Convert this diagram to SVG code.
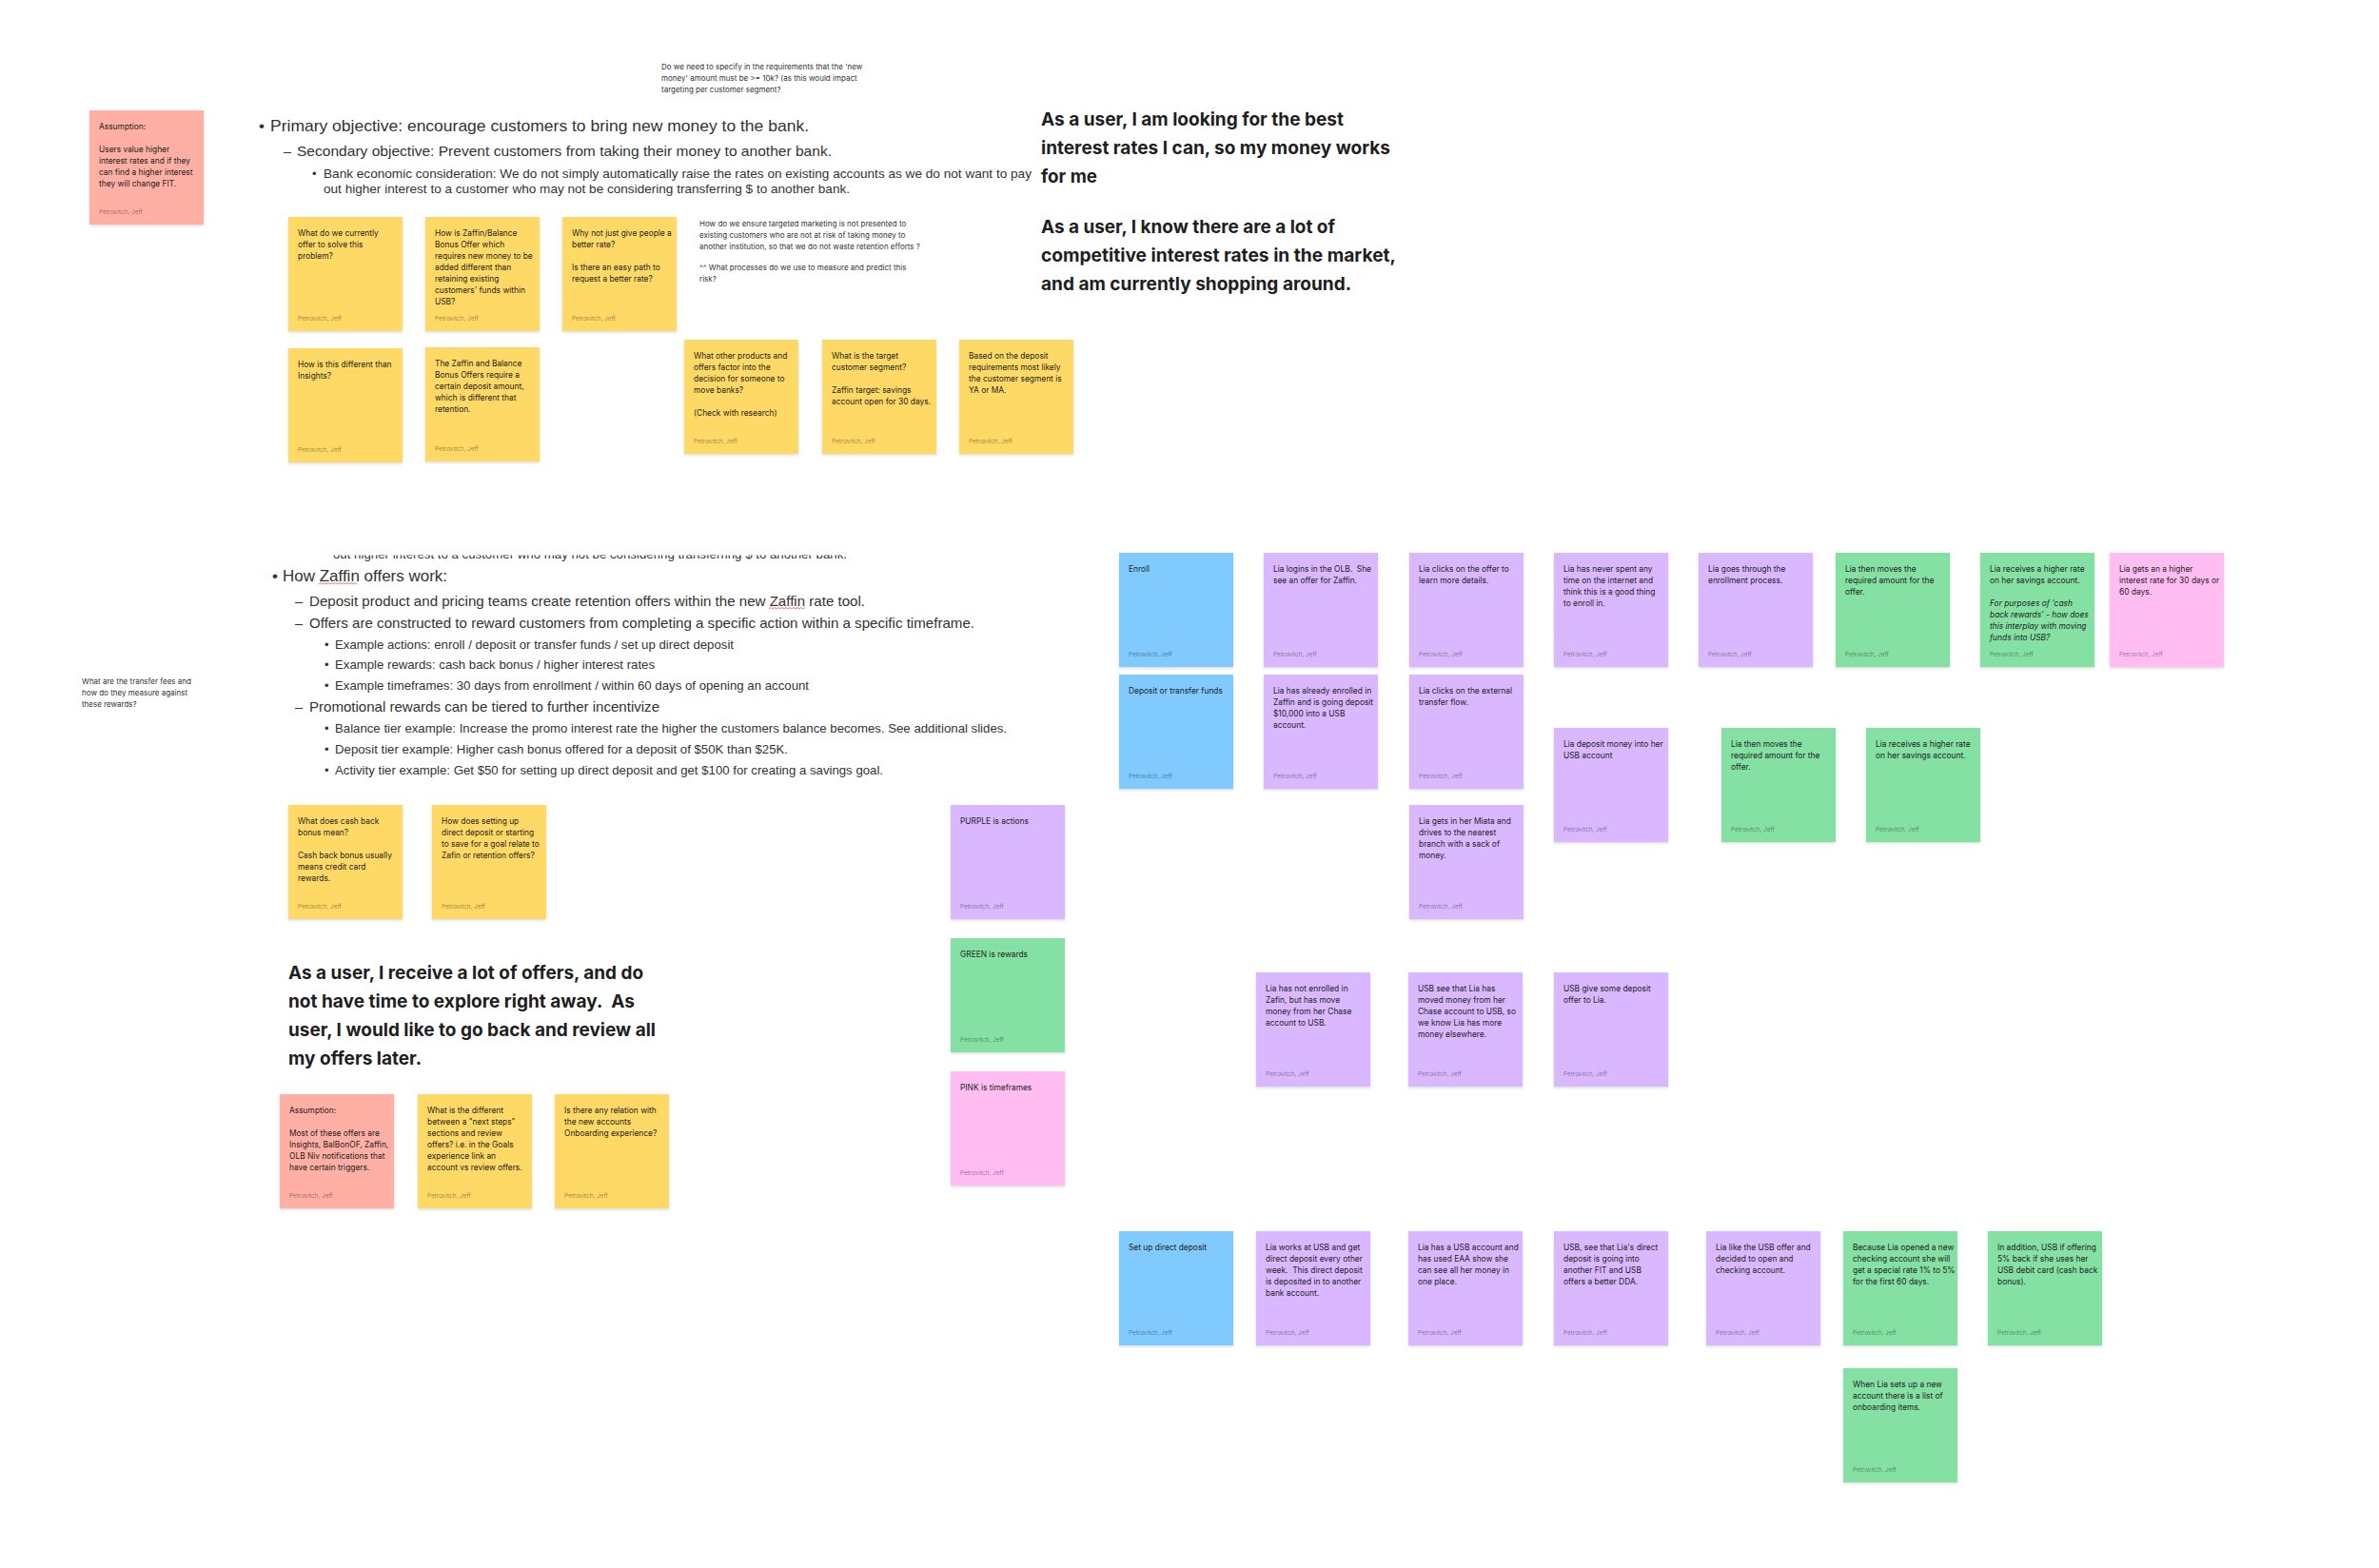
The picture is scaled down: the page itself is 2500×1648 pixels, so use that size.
<svg xmlns="http://www.w3.org/2000/svg" width="2500" height="1648" viewBox="0 0 2500 1648">
<defs>
<filter id="sh" x="-10%" y="-10%" width="120%" height="130%"><feDropShadow dx="0" dy="1.5" stdDeviation="1.5" flood-color="#000" flood-opacity="0.14"/></filter>
<clipPath id="cut"><rect x="300" y="583.5" width="700" height="20"/></clipPath>
</defs>
<style>
.y{fill:#FFD966}.r{fill:#FFAFA3}.p{fill:#D9B8FF}.g{fill:#85E0A3}.b{fill:#80CAFF}.k{fill:#FFBDF2}
rect.s{filter:url(#sh)}
.t{font-family:Inter,"Noto Sans",sans-serif;font-size:8.4px;fill:#1e1e1e}
.a{font-family:Inter,"Noto Sans",sans-serif;font-size:6.4px;fill:#000;fill-opacity:0.42}
.q{font-family:Inter,"Noto Sans",sans-serif;font-size:8px;fill:#333}
.bl{font-family:"Liberation Sans",Arial,sans-serif;fill:#333}
.L{font-size:17px}.M{font-size:14.5px}.S{font-size:13px}
.big{font-family:Inter,"Noto Sans",sans-serif;font-size:19px;font-weight:700;fill:#1e1e1e}
.sq{fill:none;stroke:#e05a5a;stroke-width:0.8}
</style>
<rect width="2500" height="1648" fill="#ffffff"/>
<g id="connectors"/>

<!-- free texts -->
<g id="q-new-money">
<text class="q" x="695" y="73">Do we need to specify in the requirements that the 'new</text>
<text class="q" x="695" y="85">money' amount must be &gt;= 10k? (as this would impact</text>
<text class="q" x="695" y="97">targeting per customer segment?</text>
</g>
<g id="q-targeting">
<text class="q" x="735" y="238">How do we ensure targeted marketing is not presented to</text>
<text class="q" x="735" y="250">existing customers who are not at risk of taking money to</text>
<text class="q" x="735" y="262">another institution, so that we do not waste retention efforts ?</text>
<text class="q" x="735" y="284">^^ What processes do we use to measure and predict this</text>
<text class="q" x="735" y="296">risk?</text>
</g>
<g id="q-transfer-fees">
<text class="q" x="86" y="719">What are the transfer fees and</text>
<text class="q" x="86" y="731">how do they measure against</text>
<text class="q" x="86" y="743">these rewards?</text>
</g>

<g id="objectives">
<text class="bl L" x="272" y="138">•</text>
<text class="bl L" x="284" y="138" textLength="566" lengthAdjust="spacingAndGlyphs">Primary objective: encourage customers to bring new money to the bank.</text>
<text class="bl M" x="298" y="164">–</text>
<text class="bl M" x="312" y="164" textLength="562" lengthAdjust="spacingAndGlyphs">Secondary objective: Prevent customers from taking their money to another bank.</text>
<text class="bl S" x="328" y="186.5">•</text>
<text class="bl S" x="340" y="186.5" textLength="744" lengthAdjust="spacingAndGlyphs">Bank economic consideration: We do not simply automatically raise the rates on existing accounts as we do not want to pay</text>
<text class="bl S" x="340" y="202.5" textLength="553" lengthAdjust="spacingAndGlyphs">out higher interest to a customer who may not be considering transferring $ to another bank.</text>
</g>

<g id="zaffin-offers">
<text class="bl S" x="350" y="587" textLength="540" lengthAdjust="spacingAndGlyphs" clip-path="url(#cut)">out higher interest to a customer who may not be considering transferring $ to another bank.</text>
<text class="bl L" x="286" y="611">•</text>
<text class="bl L" x="297" y="611" textLength="173" lengthAdjust="spacingAndGlyphs">How Zaffin offers work:</text>
<path class="sq" d="M335 614l2 -1.5l2 1.5l2 -1.5l2 1.5l2 -1.5l2 1.5l2 -1.5l2 1.5l2 -1.5l2 1.5l2 -1.5l2 1.5l2 -1.5l2 1.5l2 -1.5l2 1.5l2 -1.5l2 1.5l2 -1.5l2 1.5"/>
<text class="bl M" x="310" y="637">–</text>
<text class="bl M" x="325" y="637" textLength="584" lengthAdjust="spacingAndGlyphs">Deposit product and pricing teams create retention offers within the new Zaffin rate tool.</text>
<path class="sq" d="M808 640l2 -1.5l2 1.5l2 -1.5l2 1.5l2 -1.5l2 1.5l2 -1.5l2 1.5l2 -1.5l2 1.5l2 -1.5l2 1.5l2 -1.5l2 1.5l2 -1.5l2 1.5l2 -1.5l2 1.5l2 -1.5"/>
<text class="bl M" x="310" y="660">–</text>
<text class="bl M" x="325" y="660" textLength="699" lengthAdjust="spacingAndGlyphs">Offers are constructed to reward customers from completing a specific action within a specific timeframe.</text>
<text class="bl S" x="341" y="681.5">•</text>
<text class="bl S" x="352" y="681.5" textLength="419" lengthAdjust="spacingAndGlyphs">Example actions: enroll / deposit or transfer funds / set up direct deposit</text>
<text class="bl S" x="341" y="702.5">•</text>
<text class="bl S" x="352" y="702.5" textLength="336" lengthAdjust="spacingAndGlyphs">Example rewards: cash back bonus / higher interest rates</text>
<text class="bl S" x="341" y="724.5">•</text>
<text class="bl S" x="352" y="724.5" textLength="498" lengthAdjust="spacingAndGlyphs">Example timeframes: 30 days from enrollment / within 60 days of opening an account</text>
<text class="bl M" x="310" y="748">–</text>
<text class="bl M" x="325" y="748" textLength="368" lengthAdjust="spacingAndGlyphs">Promotional rewards can be tiered to further incentivize</text>
<text class="bl S" x="341" y="769.5">•</text>
<text class="bl S" x="352" y="769.5" textLength="706" lengthAdjust="spacingAndGlyphs">Balance tier example: Increase the promo interest rate the higher the customers balance becomes. See additional slides.</text>
<text class="bl S" x="341" y="791.5">•</text>
<text class="bl S" x="352" y="791.5" textLength="476" lengthAdjust="spacingAndGlyphs">Deposit tier example: Higher cash bonus offered for a deposit of $50K than $25K.</text>
<text class="bl S" x="341" y="813.5">•</text>
<text class="bl S" x="352" y="813.5" textLength="576" lengthAdjust="spacingAndGlyphs">Activity tier example: Get $50 for setting up direct deposit and get $100 for creating a savings goal.</text>
</g>

<g id="story-rates">
<text class="big" x="1094" y="132" textLength="318" lengthAdjust="spacingAndGlyphs">As a user, I am looking for the best</text>
<text class="big" x="1094" y="162" textLength="367" lengthAdjust="spacingAndGlyphs">interest rates I can, so my money works</text>
<text class="big" x="1094" y="192" textLength="59" lengthAdjust="spacingAndGlyphs">for me</text>
<text class="big" x="1094" y="245" textLength="309" lengthAdjust="spacingAndGlyphs">As a user, I know there are a lot of</text>
<text class="big" x="1094" y="275" textLength="373" lengthAdjust="spacingAndGlyphs">competitive interest rates in the market,</text>
<text class="big" x="1094" y="305" textLength="326" lengthAdjust="spacingAndGlyphs">and am currently shopping around.</text>
</g>
<g id="story-offers">
<text class="big" x="303" y="1029" textLength="373" lengthAdjust="spacingAndGlyphs">As a user, I receive a lot of offers, and do</text>
<text class="big" x="303" y="1059" textLength="364" lengthAdjust="spacingAndGlyphs">not have time to explore right away.&#160; As</text>
<text class="big" x="303" y="1089" textLength="386" lengthAdjust="spacingAndGlyphs">user, I would like to go back and review all</text>
<text class="big" x="303" y="1119" textLength="140" lengthAdjust="spacingAndGlyphs">my offers later.</text>
</g>

<!-- stickies left -->
<g id="n-assumption-1" transform="translate(94,116)"><rect class="s r" width="120" height="120"/><text class="t" x="10" y="20"><tspan x="10">Assumption:</tspan><tspan x="10" dy="24">Users value higher</tspan><tspan x="10" dy="12">interest rates and if they</tspan><tspan x="10" dy="12">can find a higher interest</tspan><tspan x="10" dy="12">they will change FIT.</tspan></text><text class="a" x="10" y="109">Petrovitch, Jeff</text></g>

<g id="n-currently-offer" transform="translate(303,228)"><rect class="s y" width="120" height="120"/><text class="t" x="10" y="20"><tspan x="10">What do we currently</tspan><tspan x="10" dy="12">offer to solve this</tspan><tspan x="10" dy="12">problem?</tspan></text><text class="a" x="10" y="109">Petrovitch, Jeff</text></g>
<g id="n-zaffin-balance" transform="translate(447,228)"><rect class="s y" width="120" height="120"/><text class="t" x="10" y="20"><tspan x="10">How is Zaffin/Balance</tspan><tspan x="10" dy="12">Bonus Offer which</tspan><tspan x="10" dy="12">requires new money to be</tspan><tspan x="10" dy="12">added different than</tspan><tspan x="10" dy="12">retaining existing</tspan><tspan x="10" dy="12">customers' funds within</tspan><tspan x="10" dy="12">USB?</tspan></text><text class="a" x="10" y="109">Petrovitch, Jeff</text></g>
<g id="n-better-rate" transform="translate(591,228)"><rect class="s y" width="120" height="120"/><text class="t" x="10" y="20"><tspan x="10">Why not just give people a</tspan><tspan x="10" dy="12">better rate?</tspan><tspan x="10" dy="24">Is there an easy path to</tspan><tspan x="10" dy="12">request a better rate?</tspan></text><text class="a" x="10" y="109">Petrovitch, Jeff</text></g>
<g id="n-insights" transform="translate(303,366)"><rect class="s y" width="120" height="120"/><text class="t" x="10" y="20"><tspan x="10">How is this different than</tspan><tspan x="10" dy="12">Insights?</tspan></text><text class="a" x="10" y="109">Petrovitch, Jeff</text></g>
<g id="n-deposit-amount" transform="translate(447,365)"><rect class="s y" width="120" height="120"/><text class="t" x="10" y="20"><tspan x="10">The Zaffin and Balance</tspan><tspan x="10" dy="12">Bonus Offers require a</tspan><tspan x="10" dy="12">certain deposit amount,</tspan><tspan x="10" dy="12">which is different that</tspan><tspan x="10" dy="12">retention.</tspan></text><text class="a" x="10" y="109">Petrovitch, Jeff</text></g>
<g id="n-other-products" transform="translate(719,357)"><rect class="s y" width="120" height="120"/><text class="t" x="10" y="20"><tspan x="10">What other products and</tspan><tspan x="10" dy="12">offers factor into the</tspan><tspan x="10" dy="12">decision for someone to</tspan><tspan x="10" dy="12">move banks?</tspan><tspan x="10" dy="24">(Check with research)</tspan></text><text class="a" x="10" y="109">Petrovitch, Jeff</text></g>
<g id="n-target-segment" transform="translate(864,357)"><rect class="s y" width="120" height="120"/><text class="t" x="10" y="20"><tspan x="10">What is the target</tspan><tspan x="10" dy="12">customer segment?</tspan><tspan x="10" dy="24">Zaffin target: savings</tspan><tspan x="10" dy="12">account open for 30 days.</tspan></text><text class="a" x="10" y="109">Petrovitch, Jeff</text></g>
<g id="n-ya-ma" transform="translate(1008,357)"><rect class="s y" width="120" height="120"/><text class="t" x="10" y="20"><tspan x="10">Based on the deposit</tspan><tspan x="10" dy="12">requirements most likely</tspan><tspan x="10" dy="12">the customer segment is</tspan><tspan x="10" dy="12">YA or MA.</tspan></text><text class="a" x="10" y="109">Petrovitch, Jeff</text></g>

<g id="n-cash-back" transform="translate(303,846)"><rect class="s y" width="120" height="120"/><text class="t" x="10" y="20"><tspan x="10">What does cash back</tspan><tspan x="10" dy="12">bonus mean?</tspan><tspan x="10" dy="24">Cash back bonus usually</tspan><tspan x="10" dy="12">means credit card</tspan><tspan x="10" dy="12">rewards.</tspan></text><text class="a" x="10" y="109">Petrovitch, Jeff</text></g>
<g id="n-direct-deposit-goal" transform="translate(454,846)"><rect class="s y" width="120" height="120"/><text class="t" x="10" y="20"><tspan x="10">How does setting up</tspan><tspan x="10" dy="12">direct deposit or starting</tspan><tspan x="10" dy="12">to save for a goal relate to</tspan><tspan x="10" dy="12">Zafin or retention offers?</tspan></text><text class="a" x="10" y="109">Petrovitch, Jeff</text></g>

<g id="n-legend-purple" transform="translate(999,846)"><rect class="s p" width="120" height="120"/><text class="t" x="10" y="20">PURPLE is actions</text><text class="a" x="10" y="109">Petrovitch, Jeff</text></g>
<g id="n-legend-green" transform="translate(999,986)"><rect class="s g" width="120" height="120"/><text class="t" x="10" y="20">GREEN is rewards</text><text class="a" x="10" y="109">Petrovitch, Jeff</text></g>
<g id="n-legend-pink" transform="translate(999,1126)"><rect class="s k" width="120" height="120"/><text class="t" x="10" y="20">PINK is timeframes</text><text class="a" x="10" y="109">Petrovitch, Jeff</text></g>

<g id="n-assumption-2" transform="translate(294,1150)"><rect class="s r" width="120" height="120"/><text class="t" x="10" y="20"><tspan x="10">Assumption:</tspan><tspan x="10" dy="24">Most of these offers are</tspan><tspan x="10" dy="12">Insights, BalBonOF, Zaffin,</tspan><tspan x="10" dy="12">OLB Niv notifications that</tspan><tspan x="10" dy="12">have certain triggers.</tspan></text><text class="a" x="10" y="109">Petrovitch, Jeff</text></g>
<g id="n-next-steps" transform="translate(439,1150)"><rect class="s y" width="120" height="120"/><text class="t" x="10" y="20"><tspan x="10">What is the different</tspan><tspan x="10" dy="12">between a "next steps"</tspan><tspan x="10" dy="12">sections and review</tspan><tspan x="10" dy="12">offers? i.e. in the Goals</tspan><tspan x="10" dy="12">experience link an</tspan><tspan x="10" dy="12">account vs review offers.</tspan></text><text class="a" x="10" y="109">Petrovitch, Jeff</text></g>
<g id="n-onboarding" transform="translate(583,1150)"><rect class="s y" width="120" height="120"/><text class="t" x="10" y="20"><tspan x="10">Is there any relation with</tspan><tspan x="10" dy="12">the new accounts</tspan><tspan x="10" dy="12">Onboarding experience?</tspan></text><text class="a" x="10" y="109">Petrovitch, Jeff</text></g>

<!-- journey: enroll -->
<g id="n-enroll" transform="translate(1176,581)"><rect class="s b" width="120" height="120"/><text class="t" x="10" y="20">Enroll</text><text class="a" x="10" y="109">Petrovitch, Jeff</text></g>
<g id="n-e1" transform="translate(1328,581)"><rect class="s p" width="120" height="120"/><text class="t" x="10" y="20"><tspan x="10">Lia logins in the OLB.&#160; She</tspan><tspan x="10" dy="12">see an offer for Zaffin.</tspan></text><text class="a" x="10" y="109">Petrovitch, Jeff</text></g>
<g id="n-e2" transform="translate(1481,581)"><rect class="s p" width="120" height="120"/><text class="t" x="10" y="20"><tspan x="10">Lia clicks on the offer to</tspan><tspan x="10" dy="12">learn more details.</tspan></text><text class="a" x="10" y="109">Petrovitch, Jeff</text></g>
<g id="n-e3" transform="translate(1633,581)"><rect class="s p" width="120" height="120"/><text class="t" x="10" y="20"><tspan x="10">Lia has never spent any</tspan><tspan x="10" dy="12">time on the internet and</tspan><tspan x="10" dy="12">think this is a good thing</tspan><tspan x="10" dy="12">to enroll in.</tspan></text><text class="a" x="10" y="109">Petrovitch, Jeff</text></g>
<g id="n-e4" transform="translate(1785,581)"><rect class="s p" width="120" height="120"/><text class="t" x="10" y="20"><tspan x="10">Lia goes through the</tspan><tspan x="10" dy="12">enrollment process.</tspan></text><text class="a" x="10" y="109">Petrovitch, Jeff</text></g>
<g id="n-e5" transform="translate(1929,581)"><rect class="s g" width="120" height="120"/><text class="t" x="10" y="20"><tspan x="10">Lia then moves the</tspan><tspan x="10" dy="12">required amount for the</tspan><tspan x="10" dy="12">offer.</tspan></text><text class="a" x="10" y="109">Petrovitch, Jeff</text></g>
<g id="n-e6" transform="translate(2081,581)"><rect class="s g" width="120" height="120"/><text class="t" x="10" y="20"><tspan x="10">Lia receives a higher rate</tspan><tspan x="10" dy="12">on her savings account.</tspan><tspan x="10" dy="24" font-style="italic">For purposes of 'cash</tspan><tspan x="10" dy="12" font-style="italic">back rewards' - how does</tspan><tspan x="10" dy="12" font-style="italic">this interplay with moving</tspan><tspan x="10" dy="12" font-style="italic">funds into USB?</tspan></text><text class="a" x="10" y="109">Petrovitch, Jeff</text></g>
<g id="n-e7" transform="translate(2217,581)"><rect class="s k" width="120" height="120"/><text class="t" x="10" y="20"><tspan x="10">Lia gets an a higher</tspan><tspan x="10" dy="12">interest rate for 30 days or</tspan><tspan x="10" dy="12">60 days.</tspan></text><text class="a" x="10" y="109">Petrovitch, Jeff</text></g>

<!-- journey: deposit -->
<g id="n-deposit" transform="translate(1176,709)"><rect class="s b" width="120" height="120"/><text class="t" x="10" y="20">Deposit or transfer funds</text><text class="a" x="10" y="109">Petrovitch, Jeff</text></g>
<g id="n-d1" transform="translate(1328,709)"><rect class="s p" width="120" height="120"/><text class="t" x="10" y="20"><tspan x="10">Lia has already enrolled in</tspan><tspan x="10" dy="12">Zaffin and is going deposit</tspan><tspan x="10" dy="12">$10,000 into a USB</tspan><tspan x="10" dy="12">account.</tspan></text><text class="a" x="10" y="109">Petrovitch, Jeff</text></g>
<g id="n-d2" transform="translate(1481,709)"><rect class="s p" width="120" height="120"/><text class="t" x="10" y="20"><tspan x="10">Lia clicks on the external</tspan><tspan x="10" dy="12">transfer flow.</tspan></text><text class="a" x="10" y="109">Petrovitch, Jeff</text></g>
<g id="n-d3" transform="translate(1481,846)"><rect class="s p" width="120" height="120"/><text class="t" x="10" y="20"><tspan x="10">Lia gets in her Miata and</tspan><tspan x="10" dy="12">drives to the nearest</tspan><tspan x="10" dy="12">branch with a sack of</tspan><tspan x="10" dy="12">money.</tspan></text><text class="a" x="10" y="109">Petrovitch, Jeff</text></g>
<g id="n-d4" transform="translate(1633,765)"><rect class="s p" width="120" height="120"/><text class="t" x="10" y="20"><tspan x="10">Lia deposit money into her</tspan><tspan x="10" dy="12">USB account</tspan></text><text class="a" x="10" y="109">Petrovitch, Jeff</text></g>
<g id="n-d5" transform="translate(1809,765)"><rect class="s g" width="120" height="120"/><text class="t" x="10" y="20"><tspan x="10">Lia then moves the</tspan><tspan x="10" dy="12">required amount for the</tspan><tspan x="10" dy="12">offer.</tspan></text><text class="a" x="10" y="109">Petrovitch, Jeff</text></g>
<g id="n-d6" transform="translate(1961,765)"><rect class="s g" width="120" height="120"/><text class="t" x="10" y="20"><tspan x="10">Lia receives a higher rate</tspan><tspan x="10" dy="12">on her savings account.</tspan></text><text class="a" x="10" y="109">Petrovitch, Jeff</text></g>

<g id="n-c1" transform="translate(1320,1022)"><rect class="s p" width="120" height="120"/><text class="t" x="10" y="20"><tspan x="10">Lia has not enrolled in</tspan><tspan x="10" dy="12">Zafin, but has move</tspan><tspan x="10" dy="12">money from her Chase</tspan><tspan x="10" dy="12">account to USB.</tspan></text><text class="a" x="10" y="109">Petrovitch, Jeff</text></g>
<g id="n-c2" transform="translate(1480,1022)"><rect class="s p" width="120" height="120"/><text class="t" x="10" y="20"><tspan x="10">USB see that Lia has</tspan><tspan x="10" dy="12">moved money from her</tspan><tspan x="10" dy="12">Chase account to USB, so</tspan><tspan x="10" dy="12">we know Lia has more</tspan><tspan x="10" dy="12">money elsewhere.</tspan></text><text class="a" x="10" y="109">Petrovitch, Jeff</text></g>
<g id="n-c3" transform="translate(1633,1022)"><rect class="s p" width="120" height="120"/><text class="t" x="10" y="20"><tspan x="10">USB give some deposit</tspan><tspan x="10" dy="12">offer to Lia.</tspan></text><text class="a" x="10" y="109">Petrovitch, Jeff</text></g>

<!-- journey: direct deposit -->
<g id="n-direct" transform="translate(1176,1294)"><rect class="s b" width="120" height="120"/><text class="t" x="10" y="20">Set up direct deposit</text><text class="a" x="10" y="109">Petrovitch, Jeff</text></g>
<g id="n-f1" transform="translate(1320,1294)"><rect class="s p" width="120" height="120"/><text class="t" x="10" y="20"><tspan x="10">Lia works at USB and get</tspan><tspan x="10" dy="12">direct deposit every other</tspan><tspan x="10" dy="12">week.&#160; This direct deposit</tspan><tspan x="10" dy="12">is deposited in to another</tspan><tspan x="10" dy="12">bank account.</tspan></text><text class="a" x="10" y="109">Petrovitch, Jeff</text></g>
<g id="n-f2" transform="translate(1480,1294)"><rect class="s p" width="120" height="120"/><text class="t" x="10" y="20"><tspan x="10">Lia has a USB account and</tspan><tspan x="10" dy="12">has used EAA show she</tspan><tspan x="10" dy="12">can see all her money in</tspan><tspan x="10" dy="12">one place.</tspan></text><text class="a" x="10" y="109">Petrovitch, Jeff</text></g>
<g id="n-f3" transform="translate(1633,1294)"><rect class="s p" width="120" height="120"/><text class="t" x="10" y="20"><tspan x="10">USB, see that Lia's direct</tspan><tspan x="10" dy="12">deposit is going into</tspan><tspan x="10" dy="12">another FIT and USB</tspan><tspan x="10" dy="12">offers a better DDA.</tspan></text><text class="a" x="10" y="109">Petrovitch, Jeff</text></g>
<g id="n-f4" transform="translate(1793,1294)"><rect class="s p" width="120" height="120"/><text class="t" x="10" y="20"><tspan x="10">Lia like the USB offer and</tspan><tspan x="10" dy="12">decided to open and</tspan><tspan x="10" dy="12">checking account.</tspan></text><text class="a" x="10" y="109">Petrovitch, Jeff</text></g>
<g id="n-f5" transform="translate(1937,1294)"><rect class="s g" width="120" height="120"/><text class="t" x="10" y="20"><tspan x="10">Because Lia opened a new</tspan><tspan x="10" dy="12">checking account she will</tspan><tspan x="10" dy="12">get a special rate 1% to 5%</tspan><tspan x="10" dy="12">for the first 60 days.</tspan></text><text class="a" x="10" y="109">Petrovitch, Jeff</text></g>
<g id="n-f6" transform="translate(2089,1294)"><rect class="s g" width="120" height="120"/><text class="t" x="10" y="20"><tspan x="10">In addition, USB if offering</tspan><tspan x="10" dy="12">5% back if she uses her</tspan><tspan x="10" dy="12">USB debit card (cash back</tspan><tspan x="10" dy="12">bonus).</tspan></text><text class="a" x="10" y="109">Petrovitch, Jeff</text></g>
<g id="n-f7" transform="translate(1937,1438)"><rect class="s g" width="120" height="120"/><text class="t" x="10" y="20"><tspan x="10">When Lia sets up a new</tspan><tspan x="10" dy="12">account there is a list of</tspan><tspan x="10" dy="12">onboarding items.</tspan></text><text class="a" x="10" y="109">Petrovitch, Jeff</text></g>
</svg>
